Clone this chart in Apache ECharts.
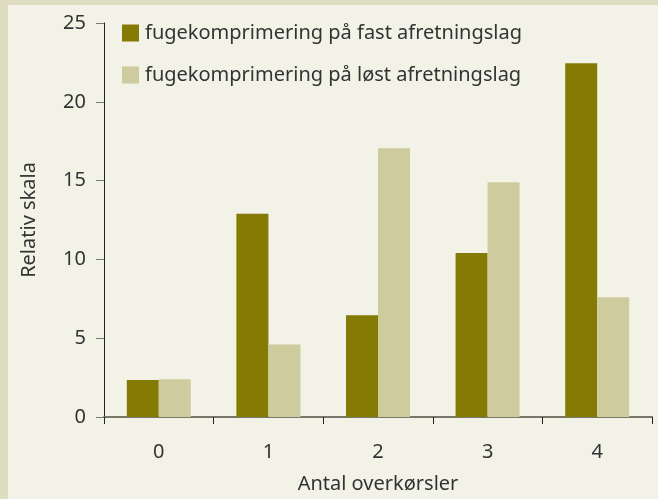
<!DOCTYPE html>
<html><head><meta charset="utf-8">
<script src="https://cdn.jsdelivr.net/npm/echarts@6/dist/echarts.min.js"></script>
<style>
html,body{margin:0;padding:0;background:#DEDDC1;}
#wrap{position:absolute;left:0;top:0;width:658px;height:499px;background:#DEDDC1;}
#c{position:absolute;left:8px;top:5px;width:650px;height:494px;background:#F2F2E7;}
</style></head>
<body><div id="wrap"><div id="c"></div></div>
<script>
const categories = ['0','1','2','3','4'];
const fastValues = [2.35, 12.9, 6.45, 10.4, 22.45];
const loestValues = [2.4, 4.6, 17.05, 14.9, 7.6];
const seriesNames = ['fugekomprimering på fast afretningslag','fugekomprimering på løst afretningslag'];
const yTicks = [0,5,10,15,20,25];

const font = 'Noto Sans';
const chart = echarts.init(document.getElementById('c'));
chart.setOption({
  backgroundColor: '#F2F2E7',
  animation: false,
  textStyle:{fontFamily: font},
  legend: {
    left: 109, top: 13, orient: 'vertical', itemGap: 22,
    itemWidth: 17, itemHeight: 17, icon: 'rect',
    textStyle: {fontFamily: font, fontSize: 20, lineHeight: 17, color: '#333', padding:[0,0,0,1]},
    data: seriesNames
  },
  grid: {left: 96, right: 6, top: 18, bottom: 82},
  xAxis: {
    type: 'category', data: categories,
    name: 'Antal overkørsler', nameLocation: 'middle', nameGap: 57,
    nameTextStyle: {fontFamily: font, fontSize: 20, color: '#333'},
    axisLine: {lineStyle: {color: '#77776A', width: 2}},
    axisTick: {show: true, length: 7, lineStyle: {color: '#222'}},
    axisLabel: {margin: 25, fontFamily: font, fontSize: 20, color: '#333'}
  },
  yAxis: {
    type: 'value', min: 0, max: 25, interval: 5,
    name: 'Relativ skala', nameLocation: 'middle', nameGap: 65,
    nameTextStyle: {fontFamily: font, fontSize: 20, color: '#333'},
    axisLine: {show: true, lineStyle: {color: '#222', width: 1}},
    axisTick: {show: true, length: 8, lineStyle: {color: '#777'}},
    splitLine: {show: false},
    axisLabel: {margin: 18, fontFamily: font, fontSize: 20, color: '#333',
      formatter: v => yTicks.includes(v) ? String(v) : ''}
  },
  series: [
    {name: seriesNames[0], type: 'bar', data: fastValues, barWidth: 32, barGap: '0%', itemStyle: {color: '#847A04'}},
    {name: seriesNames[1], type: 'bar', data: loestValues, barWidth: 32, barGap: '0%', itemStyle: {color: '#CECC9E'}}
  ]
});
</script></body></html>
